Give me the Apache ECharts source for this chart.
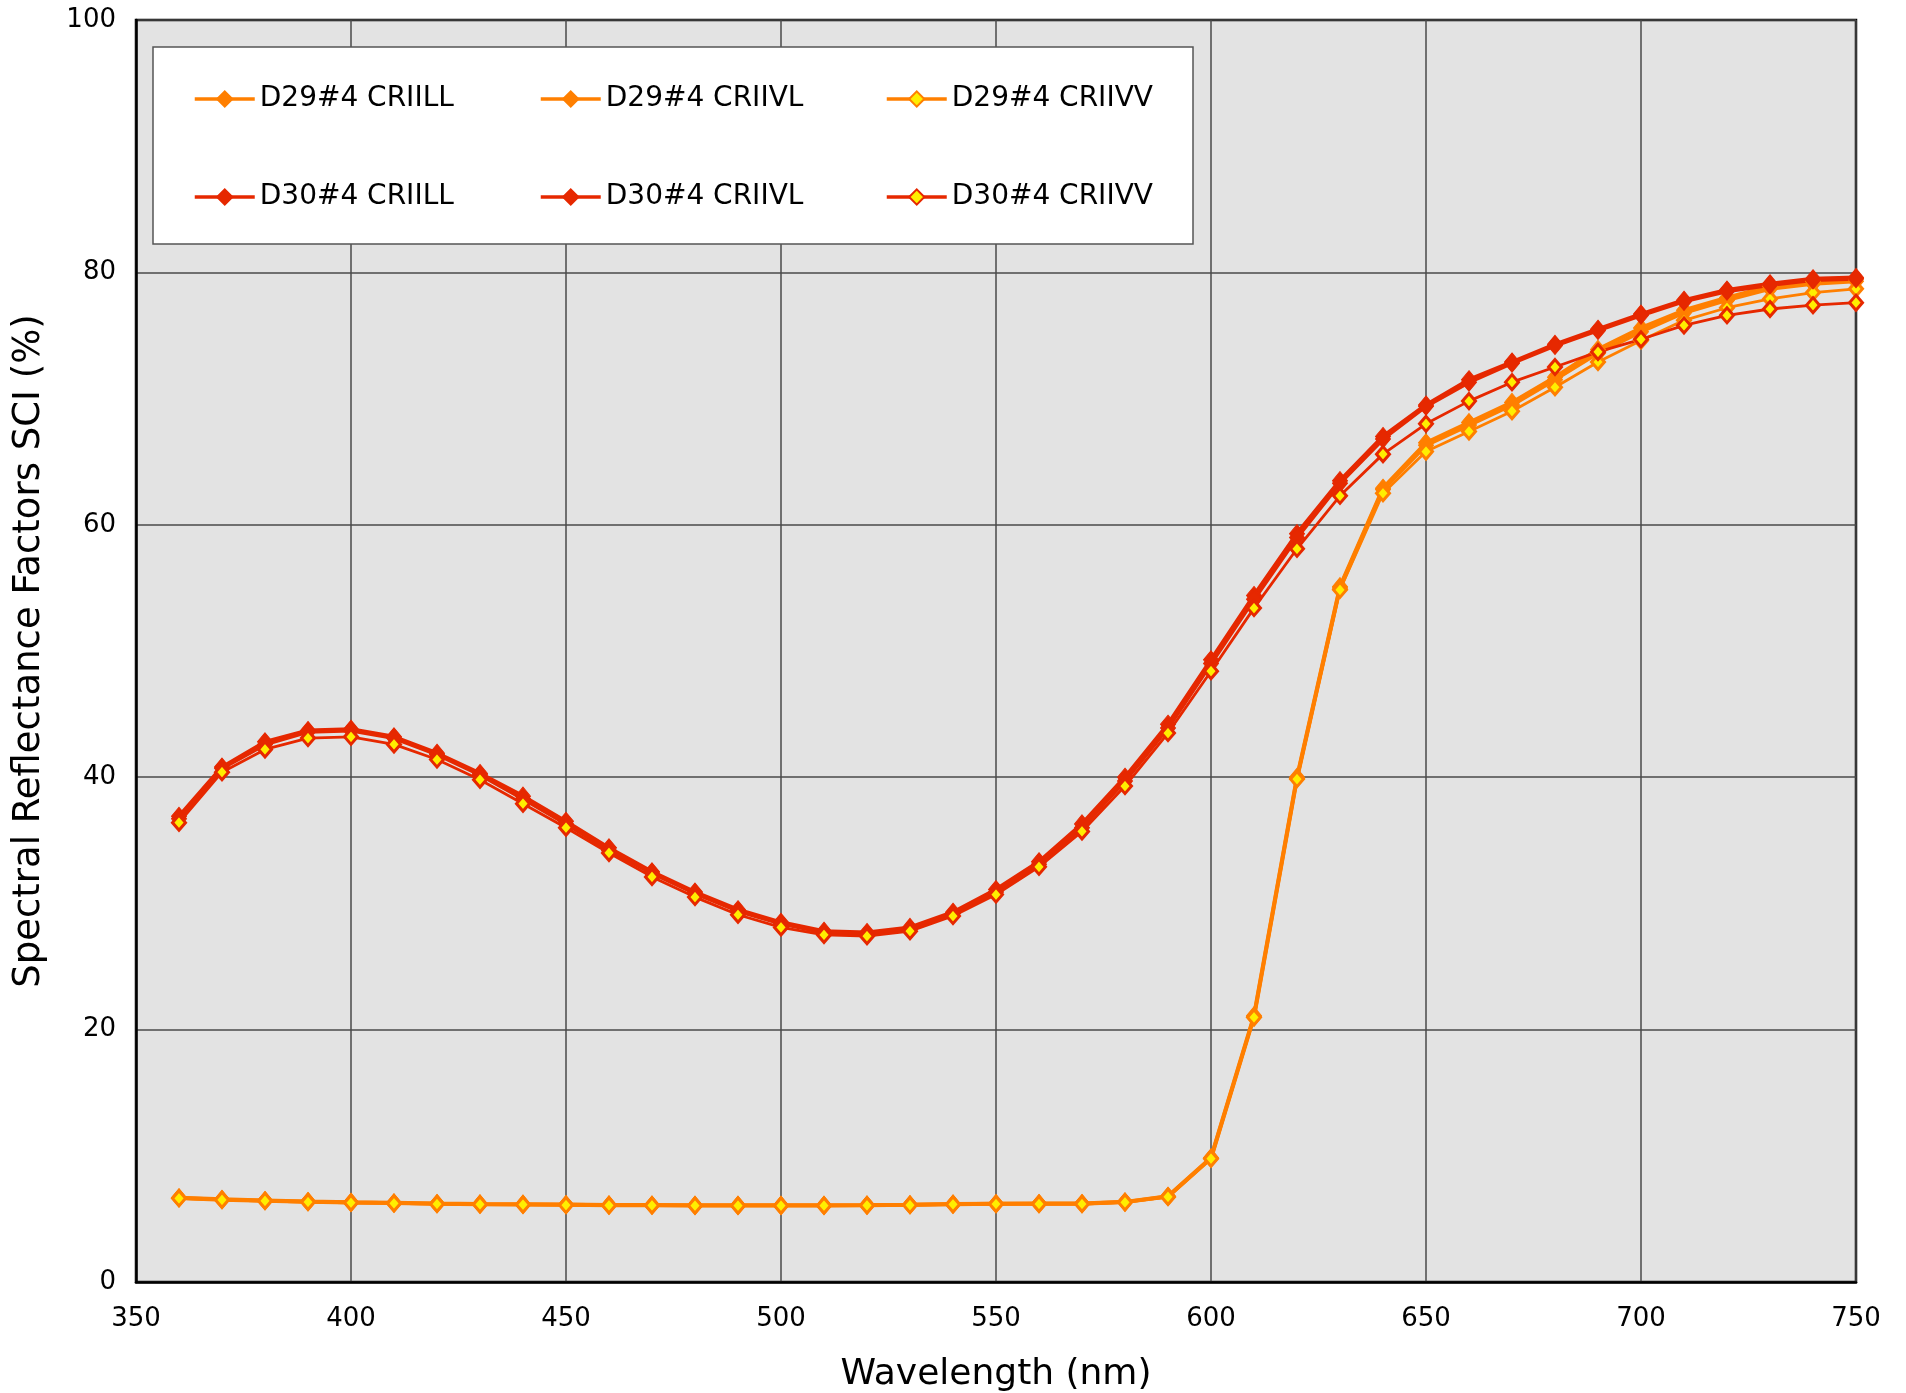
<!DOCTYPE html>
<html>
<head>
<meta charset="utf-8">
<script src="https://cdn.jsdelivr.net/npm/echarts@6/dist/echarts.min.js"></script>
<style>
  html, body { margin: 0; padding: 0; background: #fff; }
  #chart { width: 1906px; height: 1393px; }
</style>
</head>
<body>
<div id="chart"></div>
<script>
// wavelength (nm)
var wavelengths = [360, 370, 380, 390, 400, 410, 420, 430, 440, 450,
                   460, 470, 480, 490, 500, 510, 520, 530, 540, 550,
                   560, 570, 580, 590, 600, 610, 620, 630, 640, 650,
                   660, 670, 680, 690, 700, 710, 720, 730, 740, 750];

// D29#4 (orange)
var d29_criill = [6.68, 6.55, 6.46, 6.38, 6.32, 6.27, 6.22, 6.19, 6.17, 6.14,
                  6.11, 6.10, 6.08, 6.08, 6.08, 6.08, 6.10, 6.13, 6.18, 6.21,
                  6.22, 6.22, 6.35, 6.80, 9.85, 21.1, 40.0, 55.1, 62.9, 66.5,
                  68.1, 69.7, 71.7, 73.9, 75.6, 77.0, 78.0, 78.9, 79.3, 79.5];
var d29_criivl = [6.65, 6.52, 6.44, 6.36, 6.30, 6.25, 6.20, 6.17, 6.15, 6.12,
                  6.09, 6.08, 6.07, 6.07, 6.07, 6.07, 6.09, 6.12, 6.16, 6.20,
                  6.20, 6.20, 6.33, 6.77, 9.80, 21.0, 39.9, 55.0, 62.8, 66.3,
                  67.9, 69.5, 71.5, 73.6, 75.3, 76.8, 77.8, 78.7, 79.1, 79.3];
var d29_criivv = [6.63, 6.50, 6.42, 6.34, 6.28, 6.23, 6.18, 6.15, 6.13, 6.10,
                  6.07, 6.07, 6.05, 6.05, 6.05, 6.05, 6.07, 6.10, 6.15, 6.18,
                  6.18, 6.18, 6.31, 6.74, 9.77, 20.97, 39.85, 54.85, 62.5, 65.8,
                  67.4, 69.0, 70.9, 72.9, 74.6, 76.2, 77.2, 77.9, 78.4, 78.7];

// D30#4 (red)
var d30_criill = [36.9, 40.8, 42.8, 43.7, 43.8, 43.2, 41.9, 40.3, 38.5, 36.5,
                  34.4, 32.5, 30.9, 29.5, 28.5, 27.8, 27.7, 28.1, 29.3, 31.1,
                  33.3, 36.3, 40.0, 44.2, 49.3, 54.4, 59.3, 63.5, 67.0, 69.5,
                  71.5, 72.9, 74.3, 75.5, 76.7, 77.8, 78.6, 79.1, 79.5, 79.6];
var d30_criivl = [36.7, 40.7, 42.6, 43.6, 43.7, 43.1, 41.8, 40.2, 38.3, 36.3,
                  34.2, 32.4, 30.8, 29.4, 28.4, 27.7, 27.6, 28.0, 29.2, 30.9,
                  33.1, 36.0, 39.7, 43.9, 49.0, 54.1, 59.0, 63.3, 66.8, 69.4,
                  71.3, 72.8, 74.2, 75.4, 76.6, 77.7, 78.5, 79.0, 79.4, 79.5];
var d30_criivv = [36.4, 40.4, 42.2, 43.1, 43.2, 42.6, 41.4, 39.8, 37.9, 36.0,
                  34.0, 32.1, 30.5, 29.1, 28.1, 27.5, 27.4, 27.8, 29.0, 30.7,
                  32.9, 35.7, 39.3, 43.5, 48.4, 53.4, 58.1, 62.3, 65.6, 68.0,
                  69.8, 71.3, 72.5, 73.7, 74.7, 75.8, 76.6, 77.1, 77.4, 77.6];

var orange = '#ff7f00';
var red = '#e62800';
var yellow = '#ffee00';
var font = '"DejaVu Sans", Verdana, sans-serif';

function pairs(vals) {
    return wavelengths.map(function (w, i) { return [w, vals[i]]; });
}

// 实心菱形
function solidSeries(name, color, vals) {
    return {
        type: 'line', name: name, data: pairs(vals),
        symbol: 'diamond', symbolSize: [15, 18],
        lineStyle: { color: color, width: 4 },
        itemStyle: { color: color, borderColor: color, borderWidth: 1 }
    };
}
// 黄色填充菱形
function hollowSeries(name, color, vals) {
    return {
        type: 'line', name: name, data: pairs(vals),
        symbol: 'diamond', symbolSize: [13, 15],
        lineStyle: { color: color, width: 2.8 },
        itemStyle: { color: yellow, borderColor: color, borderWidth: 3 }
    };
}

function legendCol(left, names) {
    return {
        data: names, orient: 'vertical', left: left, top: 79,
        itemWidth: 60, itemHeight: 19, itemGap: 68,
        selectedMode: false,
        lineStyle: { width: 3.5 },
        textStyle: { color: '#000', fontFamily: font, fontSize: 28, lineHeight: 30 }
    };
}

var myChart = echarts.init(document.getElementById('chart'));
var option = {
    animation: false,
    backgroundColor: '#fff',
    grid: {
        left: 136, right: 50, top: 20, bottom: 111,
        outerBoundsMode: 'none', containLabel: false,
        show: true, backgroundColor: '#e3e3e3',
        borderColor: '#000', borderWidth: 2.5
    },
    graphic: [{
        type: 'rect', z: 3,
        shape: { x: 153, y: 47, width: 1040, height: 197 },
        style: { fill: '#fff', stroke: '#555', lineWidth: 1.5 }
    }],
    legend: [
        legendCol(188, ['D29#4 CRIILL', 'D30#4 CRIILL']),
        legendCol(534, ['D29#4 CRIIVL', 'D30#4 CRIIVL']),
        legendCol(880, ['D29#4 CRIIVV', 'D30#4 CRIIVV'])
    ],
    xAxis: {
        type: 'value', min: 350, max: 750, interval: 50,
        name: 'Wavelength (nm)', nameLocation: 'middle', nameGap: 75,
        nameTextStyle: { color: '#000', fontFamily: font, fontSize: 36 },
        axisLine: { lineStyle: { color: '#000', width: 2.5 } },
        axisTick: { show: false },
        axisLabel: { color: '#000', fontFamily: font, fontSize: 26, margin: 24 },
        splitLine: { lineStyle: { color: '#4a4a4a', width: 1.5 } }
    },
    yAxis: {
        type: 'value', min: 0, max: 100, interval: 20,
        name: 'Spectral Reflectance Factors SCI (%)', nameLocation: 'middle', nameGap: 88,
        nameTextStyle: { color: '#000', fontFamily: font, fontSize: 37 },
        axisLine: { show: true, lineStyle: { color: '#000', width: 2.5 } },
        axisTick: { show: false },
        axisLabel: { color: '#000', fontFamily: font, fontSize: 26, margin: 20 },
        splitLine: { lineStyle: { color: '#4a4a4a', width: 1.5 } }
    },
    series: [
        solidSeries('D29#4 CRIILL', orange, d29_criill),
        solidSeries('D29#4 CRIIVL', orange, d29_criivl),
        hollowSeries('D29#4 CRIIVV', orange, d29_criivv),
        solidSeries('D30#4 CRIILL', red, d30_criill),
        solidSeries('D30#4 CRIIVL', red, d30_criivl),
        hollowSeries('D30#4 CRIIVV', red, d30_criivv)
    ]
};
myChart.setOption(option);
</script>
</body>
</html>
